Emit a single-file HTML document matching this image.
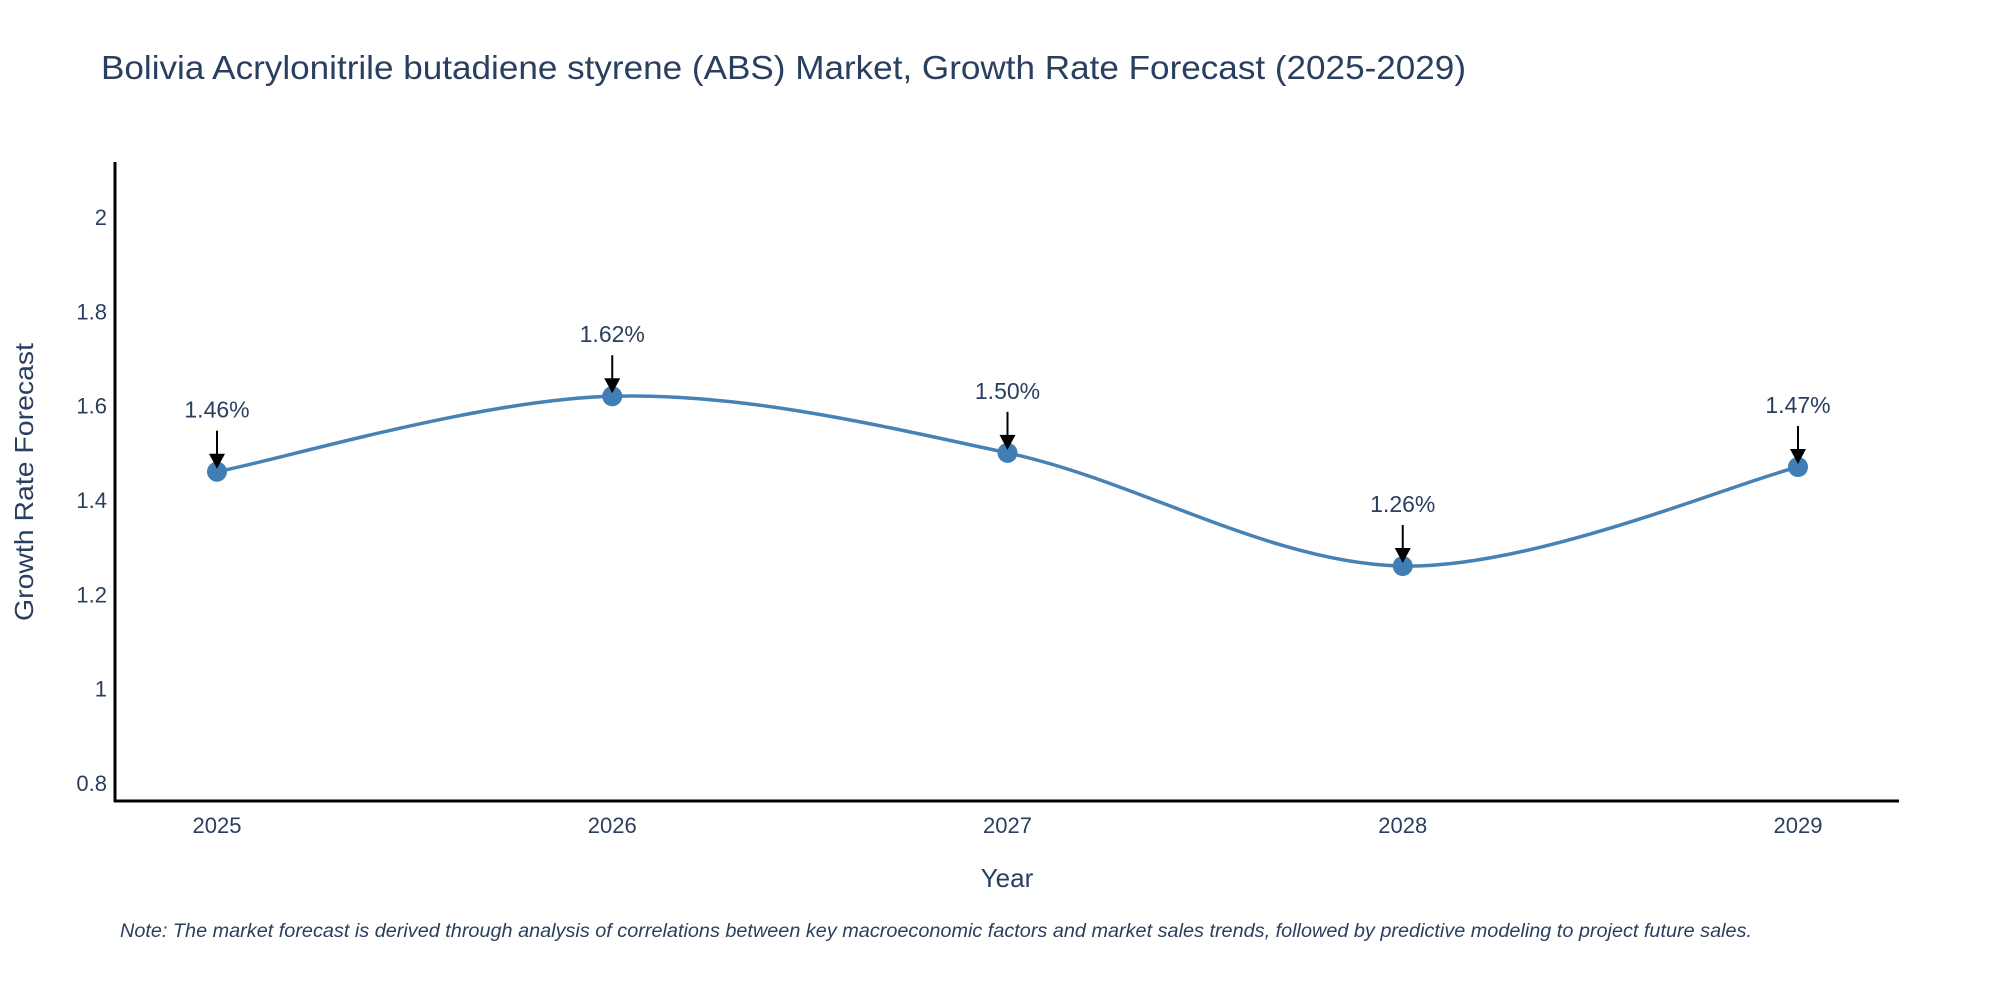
<!DOCTYPE html>
<html><head><meta charset="utf-8"><style>
body{margin:0;background:#fff;}
svg{display:block;font-family:"Liberation Sans",sans-serif;}
</style></head><body>
<svg width="2000" height="1000" xmlns="http://www.w3.org/2000/svg">
<text x="101" y="79" font-size="33" fill="#2a3f5f" textLength="1365" lengthAdjust="spacingAndGlyphs">Bolivia Acrylonitrile butadiene styrene (ABS) Market, Growth Rate Forecast (2025-2029)</text>
<g id="yticks"></g><g id="xticks"></g>
<line x1="115" y1="162" x2="115" y2="802" stroke="#000" stroke-width="3"/>
<line x1="114" y1="801" x2="1899" y2="801" stroke="#000" stroke-width="3"/>
<path id="line" fill="none" stroke="#4682b4" stroke-width="3.5"/>
<g id="pts"></g><g id="ann"></g>
<text transform="translate(33,482) rotate(-90)" text-anchor="middle" font-size="26" fill="#2a3f5f" textLength="278" lengthAdjust="spacingAndGlyphs">Growth Rate Forecast</text>
<text x="1007" y="887" text-anchor="middle" font-size="26" fill="#2a3f5f">Year</text>
<text x="120" y="937" font-size="19" font-style="italic" fill="#2a3f5f" textLength="1632" lengthAdjust="spacingAndGlyphs">Note: The market forecast is derived through analysis of correlations between key macroeconomic factors and market sales trends, followed by predictive modeling to project future sales.</text>
</svg>
<script>
const years=["2025","2026","2027","2028","2029"];
const values=[1.46,1.62,1.50,1.26,1.47];
const labels=["1.46%","1.62%","1.50%","1.26%","1.47%"];
const yTicks=[0.8,1,1.2,1.4,1.6,1.8,2];
const yTickLabels=["0.8","1","1.2","1.4","1.6","1.8","2"];
const NS="http://www.w3.org/2000/svg";
const x=i=>217+i*395.25;
const y=v=>217+(2-v)*471.7;
function mk(t,a,p){const e=document.createElementNS(NS,t);for(const k in a)e.setAttribute(k,a[k]);p.appendChild(e);return e;}
const yt=document.getElementById('yticks');
yTicks.forEach((v,i)=>{const t=mk('text',{x:107,y:y(v)+8,'text-anchor':'end','font-size':22,fill:'#2a3f5f'},yt);t.textContent=yTickLabels[i];

});
const xt=document.getElementById('xticks');
years.forEach((s,i)=>{const t=mk('text',{x:x(i),y:833,'text-anchor':'middle','font-size':22,fill:'#2a3f5f'},xt);t.textContent=s;

});
const P=values.map((v,i)=>[x(i),y(v)]);
let d=`M${P[0][0]},${P[0][1]}`;
for(let i=0;i<P.length-1;i++){const p0=P[i-1]||P[i],p1=P[i],p2=P[i+1],p3=P[i+2]||P[i+1];const k=6;
d+=` C${p1[0]+(p2[0]-p0[0])/k},${p1[1]+(p2[1]-p0[1])/k} ${p2[0]-(p3[0]-p1[0])/k},${p2[1]-(p3[1]-p1[1])/k} ${p2[0]},${p2[1]}`;}
document.getElementById('line').setAttribute('d',d);
const pts=document.getElementById('pts'),ann=document.getElementById('ann');
P.forEach((p,i)=>{const c=mk('circle',{cx:p[0],cy:p[1],r:10,fill:'#3f7fb5'},pts);


const l=mk('line',{x1:p[0],y1:p[1]-41,x2:p[0],y2:p[1]-14,stroke:'#000','stroke-width':2},ann);


const h=mk('polygon',{points:`${p[0]-8},${p[1]-18} ${p[0]+8},${p[1]-18} ${p[0]},${p[1]-3}`,fill:'#000'},ann);


const t=mk('text',{x:p[0],y:p[1]-54,'text-anchor':'middle','font-size':23,fill:'#2a3f5f'},ann);t.textContent=labels[i];

});
</script>
</body></html>
